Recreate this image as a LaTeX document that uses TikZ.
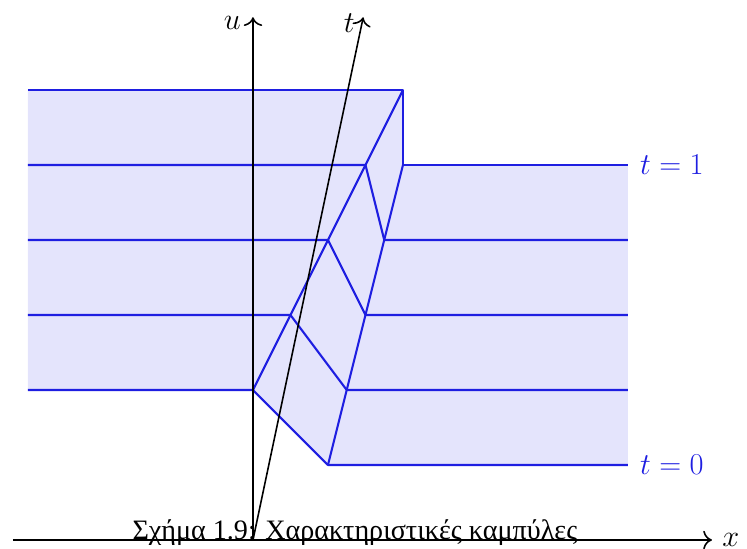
\documentclass[tikz,border=0pt]{standalone}
\usepackage{fontspec}
\newfontfamily\greekfont{Liberation Serif}
\usepackage{xcolor}
\usepackage{tikz}
\usetikzlibrary{arrows.meta, positioning}
\definecolor{waveblue}{RGB}{30, 30, 225}
\definecolor{wavefill}{RGB}{228, 228, 252}

\begin{document}
\begin{tikzpicture}[
    x=1.5cm, y=1.5cm,
    profile/.style={draw=waveblue, line width=1.2pt, line join=round},
    axis/.style={-{Computer Modern Rightarrow[scale=1.4]}, line width=0.9pt, black},
    axislabel/.style={font=\LARGE},
    timelabel/.style={font=\LARGE, text=waveblue}
]
    \useasboundingbox (-3.373,-0.12) rectangle (6.587,7.2);

    % Profile corners for t = 0, 1/4, 1/2, 3/4, 1
    \foreach \k in {0,...,4} {
        \coordinate (l\k) at (-3, 2+\k);
        \coordinate (a\k) at (\k/2, 2+\k);
        \coordinate (b\k) at (1+\k/4, 1+\k);
        \coordinate (r\k) at (5, 1+\k);
    }

    % Shaded surface
    \fill[wavefill] (l0) -- (a0) -- (b0) -- (r0) -- (r4) -- (b4) -- (a4) -- (l4) -- cycle;

    % Profiles
    \foreach \k in {0,...,4}
        \draw[profile] (l\k) -- (a\k) -- (b\k) -- (r\k);

    % Characteristics through the corners
    \draw[profile] (a0) -- (a4);
    \draw[profile] (b0) -- (b4);

    % Time labels
    \node[timelabel, right=0.12cm of r0] (t0) {$t=0$};
    \node[timelabel, right=0.12cm of r4] (t1) {$t=1$};

    % Axes
    \coordinate (O) at (0, 0);
    \coordinate (xs) at (-3.2, 0);
    \coordinate (xe) at (6.12, 0);
    \coordinate (ue) at (0, 6.97);
    \coordinate (te) at (1.47, 6.97);
    \draw[axis] (xs) -- (xe);
    \draw[axis] (O) -- (ue);
    \draw[axis] (O) -- (te);
    \node[axislabel, inner sep=0pt, right=0.2cm of xe] (xlab) {$x$};
    \node[axislabel, left=0.12cm of ue, yshift=-0.12cm] (ulab) {$u$};
    \node[axislabel, left=0.05cm of te, yshift=-0.12cm] (tlab) {$t$};

    % Caption
    \node[anchor=base, font=\greekfont\fontsize{16}{19}\selectfont, inner sep=0pt] (cap) at (1.36, 0.01) {Σχήμα 1.9: Χαρακτηριστικές καμπύλες};
\end{tikzpicture}
\end{document}
